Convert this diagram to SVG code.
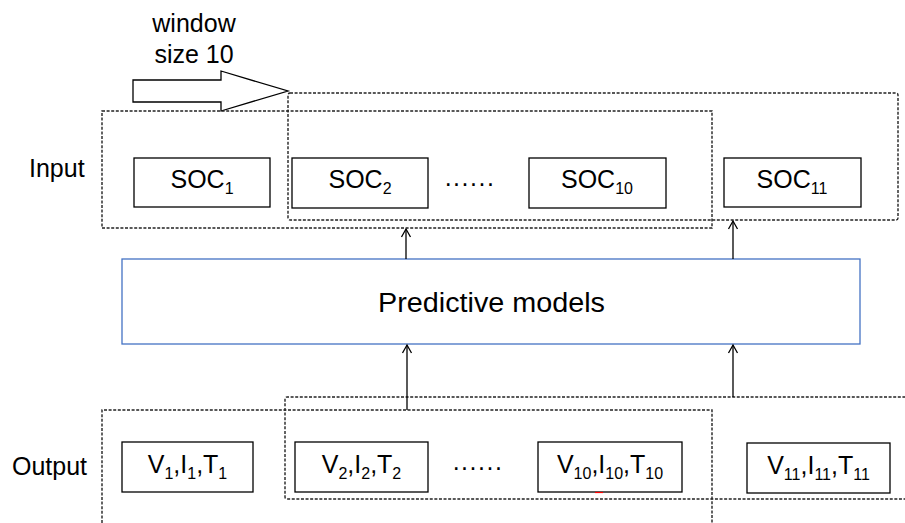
<svg xmlns="http://www.w3.org/2000/svg" width="905" height="523" viewBox="0 0 905 523">
<defs>
<marker id="ah" markerWidth="12" markerHeight="12" refX="10" refY="6" orient="auto" markerUnits="userSpaceOnUse">
<path d="M2,1.5 L10,6 L2,10.5" fill="none" stroke="#000" stroke-width="1.3"/>
</marker>
<style>
.t{font-family:"Liberation Sans",Arial,sans-serif;fill:#000;font-size:25px}
.c{text-anchor:middle}
.box{fill:#fff;stroke:#000;stroke-width:1.3}
.dash{fill:none;stroke:#222;stroke-width:1.4;stroke-dasharray:3 1.6}
.conn{stroke:#000;stroke-width:1.3;fill:none}
.s{font-size:16px}
.dots{letter-spacing:1.5px}
</style>
</defs>
<rect width="905" height="523" fill="#fff"/>

<g id="window-arrow">
<path d="M133,80 L221,80 L221,71 L288,91 L221,111 L221,102 L133,102 Z" fill="#fff" stroke="#000" stroke-width="1.3"/>
<text class="t c" x="194" y="32">window</text>
<text class="t c" x="194" y="63">size 10</text>
</g>

<g id="input-windows">
<rect class="dash" x="102" y="111" width="610" height="117"/>
<rect class="dash" x="288" y="93" width="610" height="127" rx="2"/>
</g>
<g id="output-windows">
<path class="dash" d="M102,523 L102,410 L712,410 L712,523"/>
<path class="dash" d="M910,397 L287,397 Q285,397 285,399 L285,497 Q285,499 287,499 L910,499"/>
</g>

<g id="label-input"><text class="t" x="29" y="177">Input</text></g>
<g id="label-output"><text class="t" x="12" y="475">Output</text></g>

<g id="soc1"><rect class="box" x="134" y="158" width="136" height="49"/>
<text class="t c" x="202" y="188">SOC<tspan class="s" dy="6">1</tspan></text></g>
<g id="soc2"><rect class="box" x="292" y="158" width="136" height="50"/>
<text class="t c" x="360" y="188">SOC<tspan class="s" dy="6">2</tspan></text></g>
<g id="soc-dots"><text class="t c dots" x="470" y="186">......</text></g>
<g id="soc10"><rect class="box" x="529" y="158" width="137" height="50"/>
<text class="t c" x="597" y="188">SOC<tspan class="s" dy="6">10</tspan></text></g>
<g id="soc11"><rect class="box" x="724" y="158" width="137" height="49"/>
<text class="t c" x="792" y="188">SOC<tspan class="s" dy="6">11</tspan></text></g>

<g id="predictive-models"><rect x="122" y="259" width="738" height="85" fill="#fff" stroke="#4472C4" stroke-width="1.3"/>
<text class="t" x="378" y="312" style="font-size:27px" textLength="227" lengthAdjust="spacingAndGlyphs">Predictive models</text></g>

<g id="v1"><rect class="box" x="122" y="442" width="131" height="50"/>
<text class="t c" x="187.5" y="473">V<tspan class="s" dy="6">1</tspan><tspan dy="-6">,I</tspan><tspan class="s" dy="6">1</tspan><tspan dy="-6">,T</tspan><tspan class="s" dy="6">1</tspan></text></g>
<g id="v2"><rect class="box" x="295" y="442" width="133" height="50"/>
<text class="t c" x="361.5" y="473">V<tspan class="s" dy="6">2</tspan><tspan dy="-6">,I</tspan><tspan class="s" dy="6">2</tspan><tspan dy="-6">,T</tspan><tspan class="s" dy="6">2</tspan></text></g>
<g id="v-dots"><text class="t c dots" x="478" y="470">......</text></g>
<g id="v10"><rect class="box" x="538" y="442" width="144" height="50"/>
<text class="t c" x="610" y="473">V<tspan class="s" dy="6">10</tspan><tspan dy="-6">,I</tspan><tspan class="s" dy="6">10</tspan><tspan dy="-6">,T</tspan><tspan class="s" dy="6">10</tspan></text>
<line x1="595" y1="492.5" x2="603" y2="492.5" stroke="#f00" stroke-width="1.2"/></g>
<g id="v11"><rect class="box" x="747" y="443" width="143" height="50"/>
<text class="t c" x="818.5" y="474">V<tspan class="s" dy="6">11</tspan><tspan dy="-6">,I</tspan><tspan class="s" dy="6">11</tspan><tspan dy="-6">,T</tspan><tspan class="s" dy="6">11</tspan></text></g>

<g id="connectors">
<line class="conn" x1="406" y1="259" x2="406" y2="229" marker-end="url(#ah)"/>
<line class="conn" x1="733" y1="259" x2="733" y2="221" marker-end="url(#ah)"/>
<line class="conn" x1="407" y1="410" x2="407" y2="345" marker-end="url(#ah)"/>
<line class="conn" x1="733" y1="397" x2="733" y2="345" marker-end="url(#ah)"/>
</g>
</svg>
